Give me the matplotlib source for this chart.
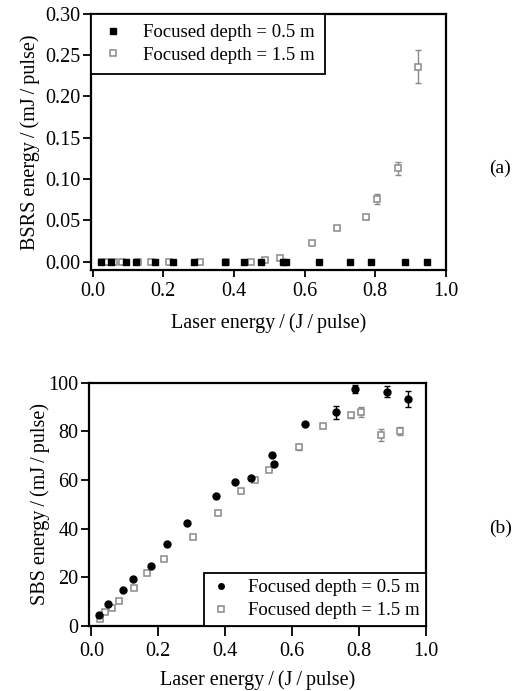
import numpy as np
import matplotlib
matplotlib.use("Agg")
import matplotlib.pyplot as plt
from matplotlib.lines import Line2D

plt.rcParams['font.family'] = ['Liberation Serif', 'DejaVu Serif']
plt.rcParams['font.size'] = 14

# laser energy (J/pulse) for the two focusing depths
x_05 = [0.023, 0.051, 0.094, 0.123, 0.177, 0.227, 0.287, 0.374, 0.428,
        0.478, 0.539, 0.547, 0.640, 0.730, 0.787, 0.885, 0.947]
x_15 = [0.026, 0.041, 0.061, 0.084, 0.128, 0.166, 0.216, 0.304, 0.378,
        0.448, 0.488, 0.530, 0.620, 0.692, 0.775, 0.805, 0.865, 0.922]

# BSRS energy (mJ/pulse)
bsrs_05 = [0.0] * 17
bsrs_15 = [0.0, 0.0, 0.0, 0.0, 0.0, 0.0, 0.0, 0.0, 0.0,
           0.0, 0.002, 0.004, 0.023, 0.040, 0.054, 0.076, 0.113, 0.236]
bsrs_15_err = [0, 0, 0, 0, 0, 0, 0, 0, 0,
               0, 0, 0, 0.002, 0.002, 0.002, 0.006, 0.008, 0.020]

# SBS energy (mJ/pulse)
sbs_05 = [4.4, 8.8, 14.9, 19.3, 24.4, 33.5, 42.1, 53.5, 59.2,
          60.9, 70.4, 66.6, 83.0, 87.8, 97.5, 96.4, 93.3]
sbs_05_err = [0, 0, 0, 0, 0, 0, 0, 0, 0,
              0, 0, 0, 0, 2.8, 1.8, 2.3, 3.3]
sbs_15 = [2.9, 5.8, 7.4, 10.3, 15.7, 21.7, 27.4, 36.4, 46.3,
          55.3, 60.1, 64.3, 73.6, 82.2, 86.7, 88.1, 78.4, 80.2]
sbs_15_err = [0, 0, 0, 0, 0, 0, 0, 0, 0,
              0, 0, 0, 1.2, 0.8, 1.0, 2.0, 2.5, 1.5]

labels = ["Focused depth = 0.5 m", "Focused depth = 1.5 m"]
gray = '#8a8a8a'
xlab = "Laser energy\u2009/\u2009(J\u2009/\u2009pulse)"

fig = plt.figure(figsize=(5.27, 6.91), dpi=100)
ax1 = fig.add_axes([0.1727, 0.609, 0.673, 0.371])
ax2 = fig.add_axes([0.169, 0.0945, 0.639, 0.3515])


def style(ax, xlen, xpad, ylen):
    for s in ax.spines.values():
        s.set_linewidth(1.6)
    ax.tick_params(direction='out', width=1.3, top=False, right=False,
                   labelsize=14.5)
    ax.tick_params(axis='x', length=xlen, pad=xpad)
    ax.tick_params(axis='y', length=ylen, pad=1.5)


# (a) BSRS
ax1.errorbar(x_15, bsrs_15, yerr=bsrs_15_err, fmt='none', ecolor=gray,
             elinewidth=1, capsize=2.5, capthick=1)
ax1.plot(x_15, bsrs_15, ls='none', marker='s', ms=4.5, mfc='white',
         mec=gray, mew=1.1)
ax1.plot(x_05, bsrs_05, ls='none', marker='s', ms=4.5, mfc='black',
         mec='black')
ax1.set_xlim(-0.005, 1.0)
ax1.set_ylim(-0.0105, 0.30)
ax1.set_xticks(np.arange(0, 1.01, 0.2))
ax1.set_yticks(np.arange(0, 0.301, 0.05))
ax1.xaxis.set_major_formatter(matplotlib.ticker.FormatStrFormatter('%.1f'))
ax1.yaxis.set_major_formatter(matplotlib.ticker.FormatStrFormatter('%.2f'))
style(ax1, 5, 3.5, 6)
ax1.set_xlabel(xlab, fontsize=14.5, labelpad=9)
ax1.set_ylabel("BSRS energy\u2009/\u2009(mJ\u2009/\u2009pulse)", fontsize=14.5, labelpad=3.5)
h1 = [Line2D([], [], ls='none', marker='s', ms=4.5, mfc='black', mec='black'),
      Line2D([], [], ls='none', marker='s', ms=4.5, mfc='white', mec=gray, mew=1.1)]
leg1 = ax1.legend(h1, labels, loc='upper left', borderaxespad=0, fancybox=False,
                  edgecolor='black', fontsize=13.5, handlelength=1.2,
                  handletextpad=1.0, borderpad=0.55, labelspacing=0.3,
                  framealpha=1)
leg1.get_frame().set_linewidth(1.3)

# (b) SBS
ax2.errorbar(x_15, sbs_15, yerr=sbs_15_err, fmt='none', ecolor=gray,
             elinewidth=1, capsize=2.5, capthick=1)
ax2.plot(x_15, sbs_15, ls='none', marker='s', ms=4.5, mfc='white',
         mec=gray, mew=1.1)
ax2.errorbar(x_05, sbs_05, yerr=sbs_05_err, fmt='none', ecolor='black',
             elinewidth=1, capsize=2.5, capthick=1)
ax2.plot(x_05, sbs_05, ls='none', marker='o', ms=5, mfc='black',
         mec='black')
ax2.set_xlim(-0.007, 1.0)
ax2.set_ylim(0, 100)
ax2.set_xticks(np.arange(0, 1.01, 0.2))
ax2.set_yticks(np.arange(0, 101, 20))
ax2.xaxis.set_major_formatter(matplotlib.ticker.FormatStrFormatter('%.1f'))
style(ax2, 7, 5, 6)
ax2.set_xlabel(xlab, fontsize=14.5, labelpad=6.5)
ax2.set_ylabel("SBS energy\u2009/\u2009(mJ\u2009/\u2009pulse)", fontsize=14.5, labelpad=-1)
h2 = [Line2D([], [], ls='none', marker='o', ms=4, mfc='black', mec='black'),
      Line2D([], [], ls='none', marker='s', ms=4, mfc='white', mec=gray, mew=1.1)]
leg2 = ax2.legend(h2, labels, loc='lower right', borderaxespad=0, fancybox=False,
                  edgecolor='black', fontsize=13.5, handlelength=1.2,
                  handletextpad=0.8, borderpad=0.35, labelspacing=0.3,
                  framealpha=1)
leg2.get_frame().set_linewidth(1.3)

fig.text(0.949, 0.757, "(a)", fontsize=14, ha='center', va='center')
fig.text(0.949, 0.236, "(b)", fontsize=14, ha='center', va='center')

fig.savefig("out.png", dpi=100)
